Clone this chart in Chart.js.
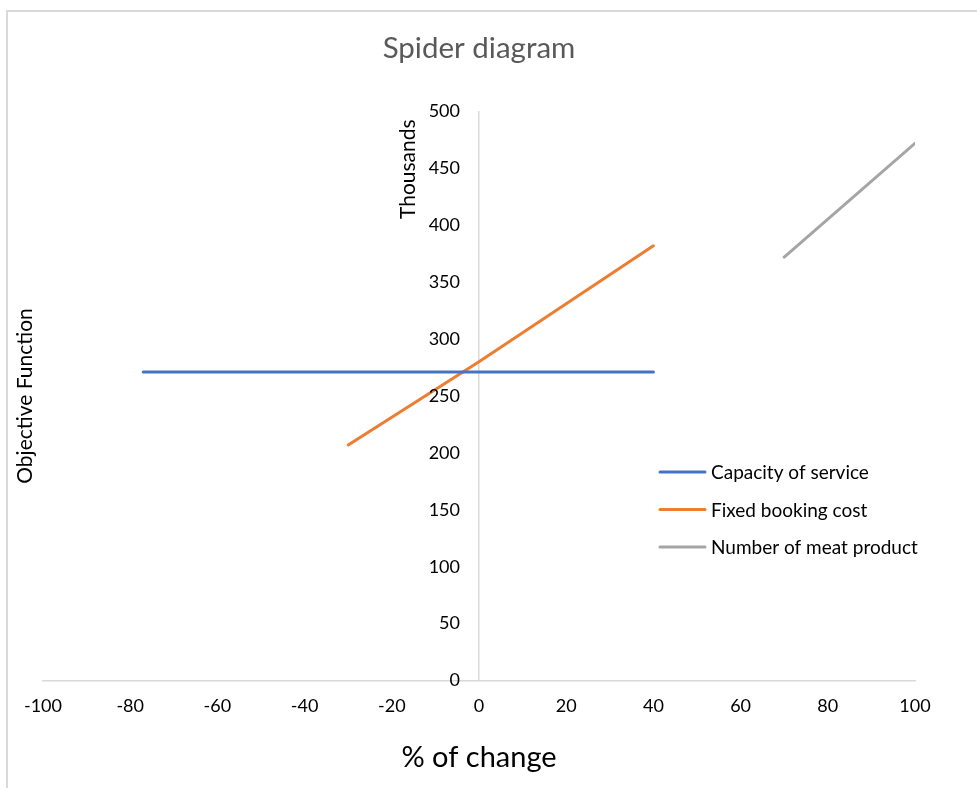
<!DOCTYPE html>
<html>
<head>
<meta charset="utf-8">
<title>Spider diagram</title>
<script src="https://cdn.jsdelivr.net/npm/chart.js@4.4.1/dist/chart.umd.min.js"></script>
<style>
    html, body { margin: 0; padding: 0; background: #fff; overflow: hidden; }
    #wrap { position: relative; width: 977px; height: 788px; }
    /* chart frame, only left/top edges are visible in the crop */
    #frame { position: absolute; left: 6px; top: 10px; width: 1000px; height: 800px;
             border-left: 2px solid #d9d9d9; border-top: 2px solid #d9d9d9; }
    #chart { position: absolute; left: 0; top: 0; }
</style>
</head>
<body>
<div id="wrap">
    <div id="frame"></div>
    <canvas id="chart" width="977" height="788"></canvas>
</div>
<script>
// values are in thousands
const seriesNames = ["Capacity of service", "Fixed booking cost", "Number of meat product"];
const seriesColors = ["#4472C4", "#ED7D31", "#A5A5A5"];

const capacityX = [-77, 0, 40];
const capacityY = [271, 271, 271];

const bookingX = [-30, 0, 40];
const bookingY = [207, 280, 382];

const meatX = [70, 100];
const meatY = [372, 472];

const xMin = -100, xMax = 100, xStep = 20;
const yMin = 0, yMax = 500, yStep = 50;

const FONT = "Lato, 'Open Sans', sans-serif";

function toPoints(xs, ys) {
    return xs.map((x, i) => ({ x: x, y: ys[i] }));
}

const seriesX = [capacityX, bookingX, meatX];
const seriesY = [capacityY, bookingY, meatY];

const datasets = seriesNames.map((name, i) => ({
    label: name,
    data: toPoints(seriesX[i], seriesY[i]),
    borderColor: seriesColors[i],
    backgroundColor: seriesColors[i],
    borderWidth: 3,
    borderCapStyle: "round",
    showLine: true,
    pointRadius: 0,
    pointHoverRadius: 0,
}));

// value labels of the crossing axis, display unit, left title and legend
const extraText = {
    id: "extraText",
    afterDraw(chart) {
        const ctx = chart.ctx;
        const xs = chart.scales.x;
        const ys = chart.scales.y;
        const area = chart.chartArea;
        const axisX = xs.getPixelForValue(0);

        ctx.save();
        ctx.fillStyle = "#000";
        ctx.textBaseline = "middle";

        // y tick labels, left of the axis drawn at x = 0
        ctx.font = "18px " + FONT;
        ctx.textAlign = "right";
        ys.ticks.forEach(t => {
            ctx.fillText(String(t.value), axisX - 19, ys.getPixelForValue(t.value));
        });

        // "Thousands" next to the value axis
        ctx.font = "21px " + FONT;
        ctx.save();
        ctx.translate(axisX - 71, area.top + 8);
        ctx.rotate(-Math.PI / 2);
        ctx.textAlign = "right";
        ctx.fillText("Thousands", 0, 0);
        ctx.restore();

        // left axis title
        ctx.font = "21px " + FONT;
        ctx.save();
        ctx.translate(25, (area.top + area.bottom) / 2);
        ctx.rotate(-Math.PI / 2);
        ctx.textAlign = "center";
        ctx.fillText("Objective Function", 0, 0);
        ctx.restore();

        // legend
        const lx = 660, ly = 472, gap = 37.5;
        ctx.font = "19px " + FONT;
        ctx.textAlign = "left";
        chart.data.datasets.forEach((ds, i) => {
            const y = ly + i * gap;
            ctx.strokeStyle = ds.borderColor;
            ctx.lineWidth = 3;
            ctx.lineCap = "round";
            ctx.beginPath();
            ctx.moveTo(lx, y);
            ctx.lineTo(lx + 45, y);
            ctx.stroke();
            ctx.fillText(ds.label, lx + 51, y + 1);
        });
        ctx.restore();
    },
};

new Chart(document.getElementById("chart").getContext("2d"), {
    type: "scatter",
    data: { datasets: datasets },
    options: {
        responsive: false,
        animation: false,
        layout: { padding: { left: 43, right: 62, top: 0, bottom: 2 } },
        plugins: {
            legend: { display: false },
            tooltip: { enabled: false },
            title: {
                display: true,
                text: "Spider diagram",
                fullSize: false,
                color: "#595959",
                font: { family: FONT, size: 29.5, weight: "normal" },
                padding: { top: 31, bottom: 45 },
            },
        },
        scales: {
            x: {
                type: "linear",
                position: "bottom",
                min: xMin,
                max: xMax,
                grid: { display: false, drawTicks: false },
                border: { display: true, color: "#d9d9d9", width: 1.5 },
                ticks: {
                    stepSize: xStep,
                    padding: 15,
                    color: "#000",
                    font: { family: FONT, size: 18 },
                },
                title: {
                    display: true,
                    text: "% of change",
                    color: "#000",
                    font: { family: FONT, size: 29 },
                    padding: { top: 8, bottom: 11 },
                },
            },
            y: {
                type: "linear",
                position: { x: 0 },
                min: yMin,
                max: yMax,
                grid: { display: false, drawTicks: false },
                border: { display: true, color: "#d9d9d9", width: 1.5 },
                ticks: {
                    display: false,
                    stepSize: yStep,
                },
            },
        },
    },
    plugins: [extraText],
});
</script>
</body>
</html>
